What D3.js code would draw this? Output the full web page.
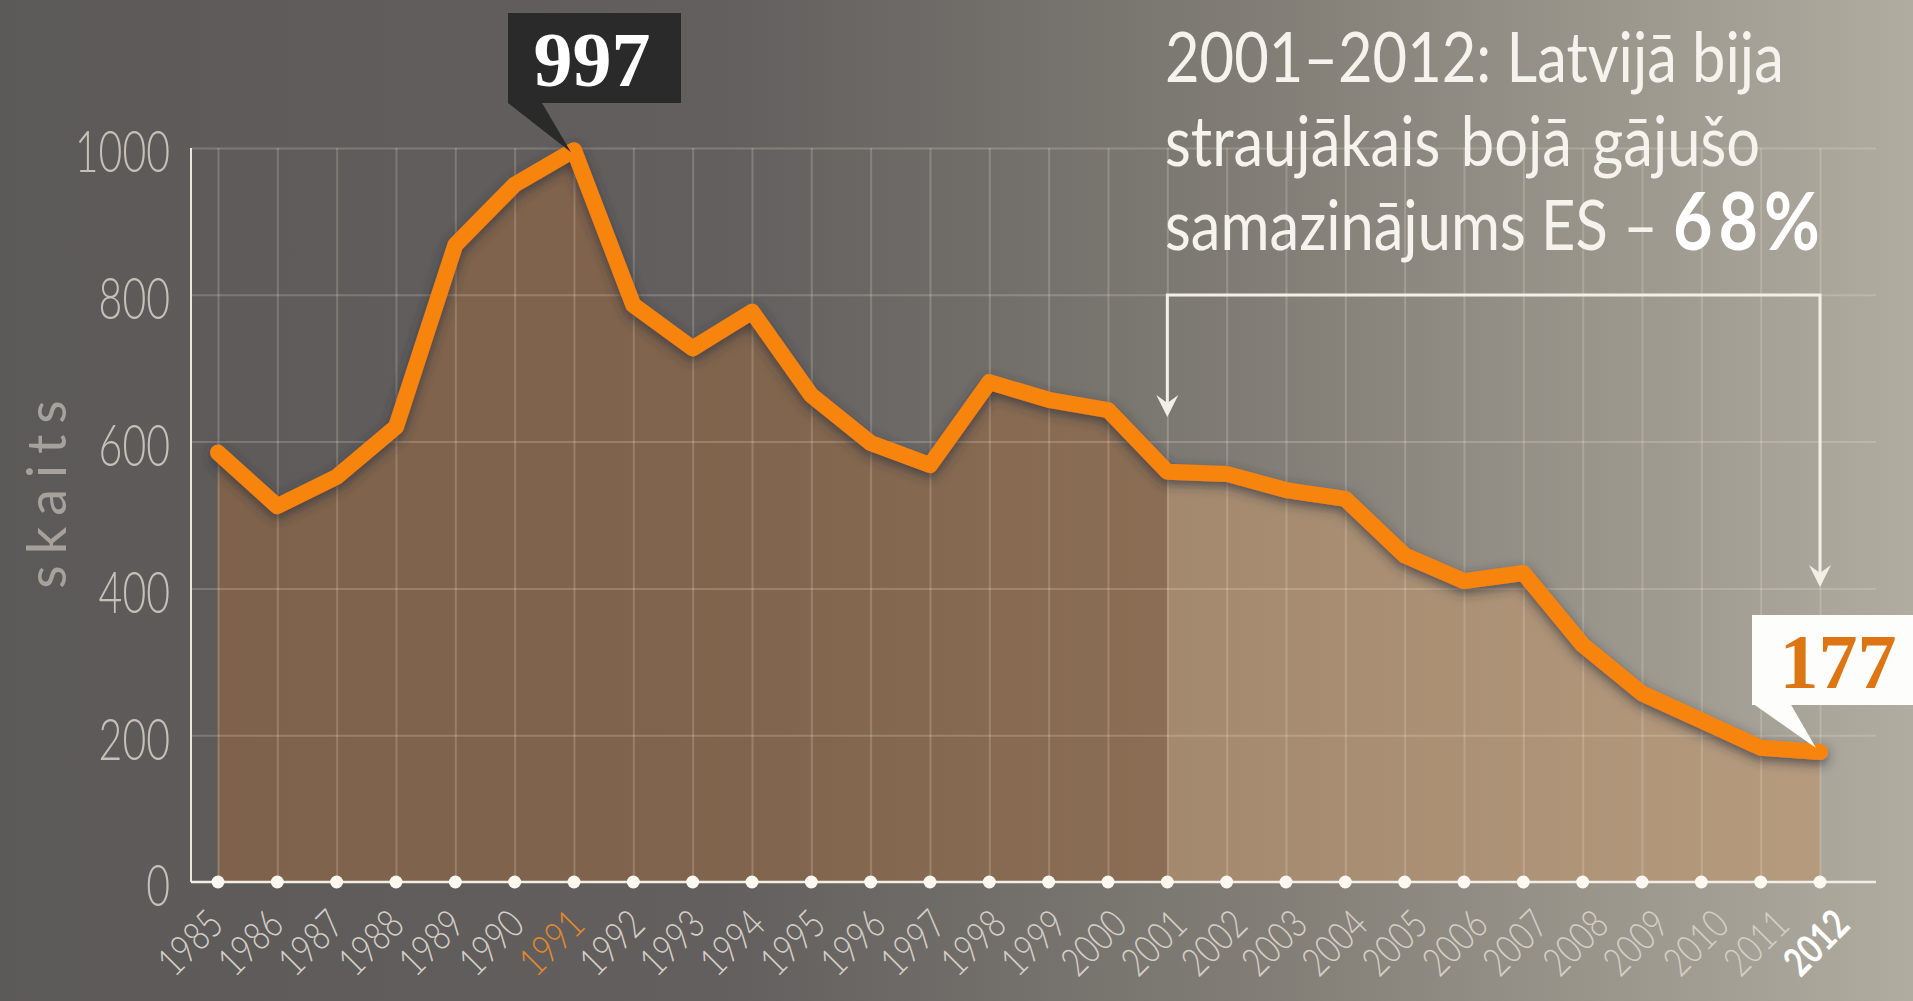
<!DOCTYPE html>
<html>
<head>
<meta charset="utf-8">
<script src="https://cdn.jsdelivr.net/npm/d3@7"></script>
<style>
  html, body { margin: 0; padding: 0; background: #5e5b5b; overflow: hidden; }
</style>
</head>
<body>
<div id="chart"></div>
<script>
"use strict";

// data
var years = ["1985","1986","1987","1988","1989","1990","1991","1992","1993","1994",
             "1995","1996","1997","1998","1999","2000","2001","2002","2003","2004",
             "2005","2006","2007","2008","2009","2010","2011","2012"];
var deaths = [585, 512, 552, 620, 868, 950, 997, 786, 727, 777,
              663, 598, 568, 681, 657, 643, 559, 556, 534, 522,
              445, 410, 421, 323, 257, 220, 183, 177];
var yTicks = [0, 200, 400, 600, 800, 1000];
var splitYear = "2001";
var peakYear = "1991";
var lastYear = "2012";
var yTitle = "skaits";
var noteLines = ["2001–2012: Latvijā bija", "straujākais bojā gājušo", "samazinājums ES – "];
var noteBold = "68%";

var W = 1913, H = 1001;
var left = 191, right = 1876;

var svg = d3.select("#chart").append("svg")
    .attr("width", W)
    .attr("height", H);

var defs = svg.append("defs");
var bg = defs.append("linearGradient").attr("id", "bg")
    .attr("x1", "0%").attr("x2", "100%").attr("y1", "0%").attr("y2", "0%");
bg.append("stop").attr("offset", "0%").attr("stop-color", "#5c5959");
bg.append("stop").attr("offset", "38%").attr("stop-color", "#625f5e");
bg.append("stop").attr("offset", "68%").attr("stop-color", "#848078");
bg.append("stop").attr("offset", "100%").attr("stop-color", "#b0aca0");

var sh = defs.append("filter").attr("id", "shadow")
    .attr("x", "-10%").attr("y", "-20%").attr("width", "120%").attr("height", "140%");
sh.append("feDropShadow").attr("dx", 0).attr("dy", 4).attr("stdDeviation", 6)
    .attr("flood-color", "#2c2f3a").attr("flood-opacity", 0.7);

svg.append("rect").attr("width", W).attr("height", H).attr("fill", "url(#bg)");

// scales
var x = d3.scalePoint().domain(years).range([218, 1820]);
var y = d3.scaleLinear().domain([0, 1000]).range([882, 148]);

var rows = years.map(function (d, i) { return {year: d, v: deaths[i]}; });
var splitIdx = years.indexOf(splitYear);

var area = d3.area()
    .x(function (d) { return x(d.year); })
    .y0(y(0))
    .y1(function (d) { return y(d.v); });

svg.append("path")
    .datum(rows.slice(0, splitIdx + 1))
    .attr("d", area)
    .attr("fill", "rgba(147,104,66,0.62)");
svg.append("path")
    .datum(rows.slice(splitIdx))
    .attr("d", area)
    .attr("fill", "rgba(190,148,108,0.6)");

// squeeze text so it looks like the condensed face of the original
function condense(sel, k) {
    sel.each(function () {
        var len = this.getComputedTextLength();
        d3.select(this).attr("textLength", len * k).attr("lengthAdjust", "spacingAndGlyphs");
    });
}

// grid
var gridColor = "rgba(255,240,222,0.2)";
svg.append("g")
    .attr("transform", "translate(" + left + ",0)")
    .call(d3.axisLeft(y).tickValues(yTicks.slice(1)).tickSize(-(right - left)).tickFormat(""))
    .call(function (g) { g.select(".domain").remove(); })
    .selectAll("line").attr("stroke", gridColor).attr("stroke-width", 2);
svg.append("g")
    .attr("transform", "translate(0," + y(0) + ")")
    .call(d3.axisBottom(x).tickSize(-(y(0) - y(1000))).tickFormat(""))
    .call(function (g) { g.select(".domain").remove(); })
    .selectAll("line").attr("stroke", gridColor).attr("stroke-width", 2);

// y axis
var yAxis = svg.append("g")
    .attr("transform", "translate(" + left + ",0)")
    .call(d3.axisLeft(y).tickValues(yTicks).tickSize(0).tickPadding(21).tickFormat(d3.format("d")));
yAxis.select(".domain").remove();
yAxis.selectAll("text")
    .attr("dy", "0.42em")
    .style("font-family", "Lato, 'Open Sans', sans-serif")
    .style("font-weight", 300)
    .style("font-size", "57px")
    .attr("fill", "#c7c0b8");
condense(yAxis.selectAll("text"), 0.72);

svg.append("line")
    .attr("x1", left).attr("x2", left)
    .attr("y1", y(1000)).attr("y2", y(0))
    .attr("stroke", "#ece7de").attr("stroke-width", 2);

svg.append("text")
    .attr("transform", "translate(66," + 489 + ") rotate(-90)")
    .attr("text-anchor", "middle")
    .style("font-family", "Lato, 'Open Sans', sans-serif")
    .style("font-size", "54px")
    .style("letter-spacing", "11px")
    .attr("fill", "#a7a19b")
    .text(yTitle);

// x axis (the labels drift a little to the right, as in the original)
var xAxis = svg.append("g")
    .attr("transform", "translate(0," + y(0) + ")")
    .call(d3.axisBottom(x).tickSize(0).tickPadding(0));
xAxis.select(".domain").remove();
xAxis.selectAll("text")
    .attr("y", 0).attr("dy", 0).attr("x", 0)
    .attr("text-anchor", "end")
    .attr("transform", function (d, i) {
        return "translate(" + (7 + i * 0.9) + ",45) rotate(-45)";
    })
    .style("font-family", "Lato, 'Open Sans', sans-serif")
    .style("font-size", "40px")
    .style("font-weight", function (d) { return d === lastYear ? 700 : 300; })
    .attr("fill", function (d) {
        if (d === peakYear) return "#e3892c";
        if (d === lastYear) return "#ffffff";
        return "#d4cec6";
    });
condense(xAxis.selectAll("text"), 0.78);

svg.append("line")
    .attr("x1", left).attr("x2", right)
    .attr("y1", y(0)).attr("y2", y(0))
    .attr("stroke", "#f3eee5").attr("stroke-width", 2.5);

// the line
var line = d3.line()
    .x(function (d) { return x(d.year); })
    .y(function (d) { return y(d.v); });

svg.append("path")
    .datum(rows)
    .attr("d", line)
    .attr("fill", "none")
    .attr("stroke", "#f7840b")
    .attr("stroke-width", 16)
    .attr("stroke-linejoin", "round")
    .attr("stroke-linecap", "round")
    .attr("filter", "url(#shadow)");

svg.append("g").selectAll("circle")
    .data(years)
    .join("circle")
    .attr("cx", function (d) { return x(d); })
    .attr("cy", y(0))
    .attr("r", 6.5)
    .attr("fill", "#fbf8f1");

// peak callout
var peak = rows[years.indexOf(peakYear)];
var pk = svg.append("g");
pk.append("path")
    .attr("d", "M508,103 L542,103 L" + (x(peak.year) - 3) + "," + (y(peak.v) + 2) + " Z")
    .attr("fill", "#2a2a2a");
pk.append("rect")
    .attr("x", 508).attr("y", 13).attr("width", 173).attr("height", 90)
    .attr("fill", "#2a2a2a");
pk.append("text")
    .attr("x", 592).attr("y", 86)
    .attr("text-anchor", "middle")
    .style("font-family", "'Liberation Serif', 'DejaVu Serif', serif")
    .style("font-weight", 700)
    .style("font-size", "78px")
    .attr("fill", "#ffffff")
    .text(peak.v);

// last value callout
var last = rows[rows.length - 1];
var lc = svg.append("g");
lc.append("path")
    .attr("d", "M1752,703 L1790,703 L" + (x(last.year) - 4) + "," + (y(last.v) - 4) + " Z")
    .attr("fill", "#fdfdfb");
lc.append("rect")
    .attr("x", 1752).attr("y", 615).attr("width", 180).attr("height", 90)
    .attr("fill", "#fdfdfb");
lc.append("text")
    .attr("x", 1838).attr("y", 688)
    .attr("text-anchor", "middle")
    .style("font-family", "'Liberation Serif', 'DejaVu Serif', serif")
    .style("font-weight", 700)
    .style("font-size", "78px")
    .attr("fill", "#dc7512")
    .text(last.v);

// bracket with arrows
var bx1 = x(splitYear), bx2 = x(lastYear);
var tip1 = 417, tip2 = 587, barY = 295;
var ink = "#f3efe6";
svg.append("path")
    .attr("d", "M" + bx1 + "," + (tip1 - 10) + " V" + barY + " H" + bx2 + " V" + (tip2 - 10))
    .attr("fill", "none")
    .attr("stroke", ink)
    .attr("stroke-width", 3);
[[bx1, tip1], [bx2, tip2]].forEach(function (p) {
    svg.append("path")
        .attr("d", "M" + p[0] + "," + p[1] +
                   " L" + (p[0] - 11) + "," + (p[1] - 22) +
                   " L" + p[0] + "," + (p[1] - 14) +
                   " L" + (p[0] + 11) + "," + (p[1] - 22) + " Z")
        .attr("fill", ink);
});

// note text, squeezed so that the first line is as wide as in the original
var note = svg.append("g");
var baselines = [82, 166, 250];
noteLines.forEach(function (t, i) {
    var tx = note.append("text")
        .attr("x", 0).attr("y", baselines[i])
        .style("font-family", "Lato, 'Open Sans', sans-serif")
        .style("font-size", "70px")
        .style("word-spacing", i === 1 ? "6px" : "0px")
        .attr("fill", "#f6f3ee")
        .text(t);
    if (i === noteLines.length - 1) {
        tx.append("tspan")
            .style("font-weight", 700)
            .style("font-size", "80px")
            .style("letter-spacing", "7px")
            .attr("fill", "#ffffff")
            .text(noteBold);
    }
});
var firstW = note.select("text").node().getComputedTextLength();
var k = Math.min(1, 619 / firstW);
note.attr("transform", "translate(1165,0) scale(" + k + ",1)");
</script>
</body>
</html>
